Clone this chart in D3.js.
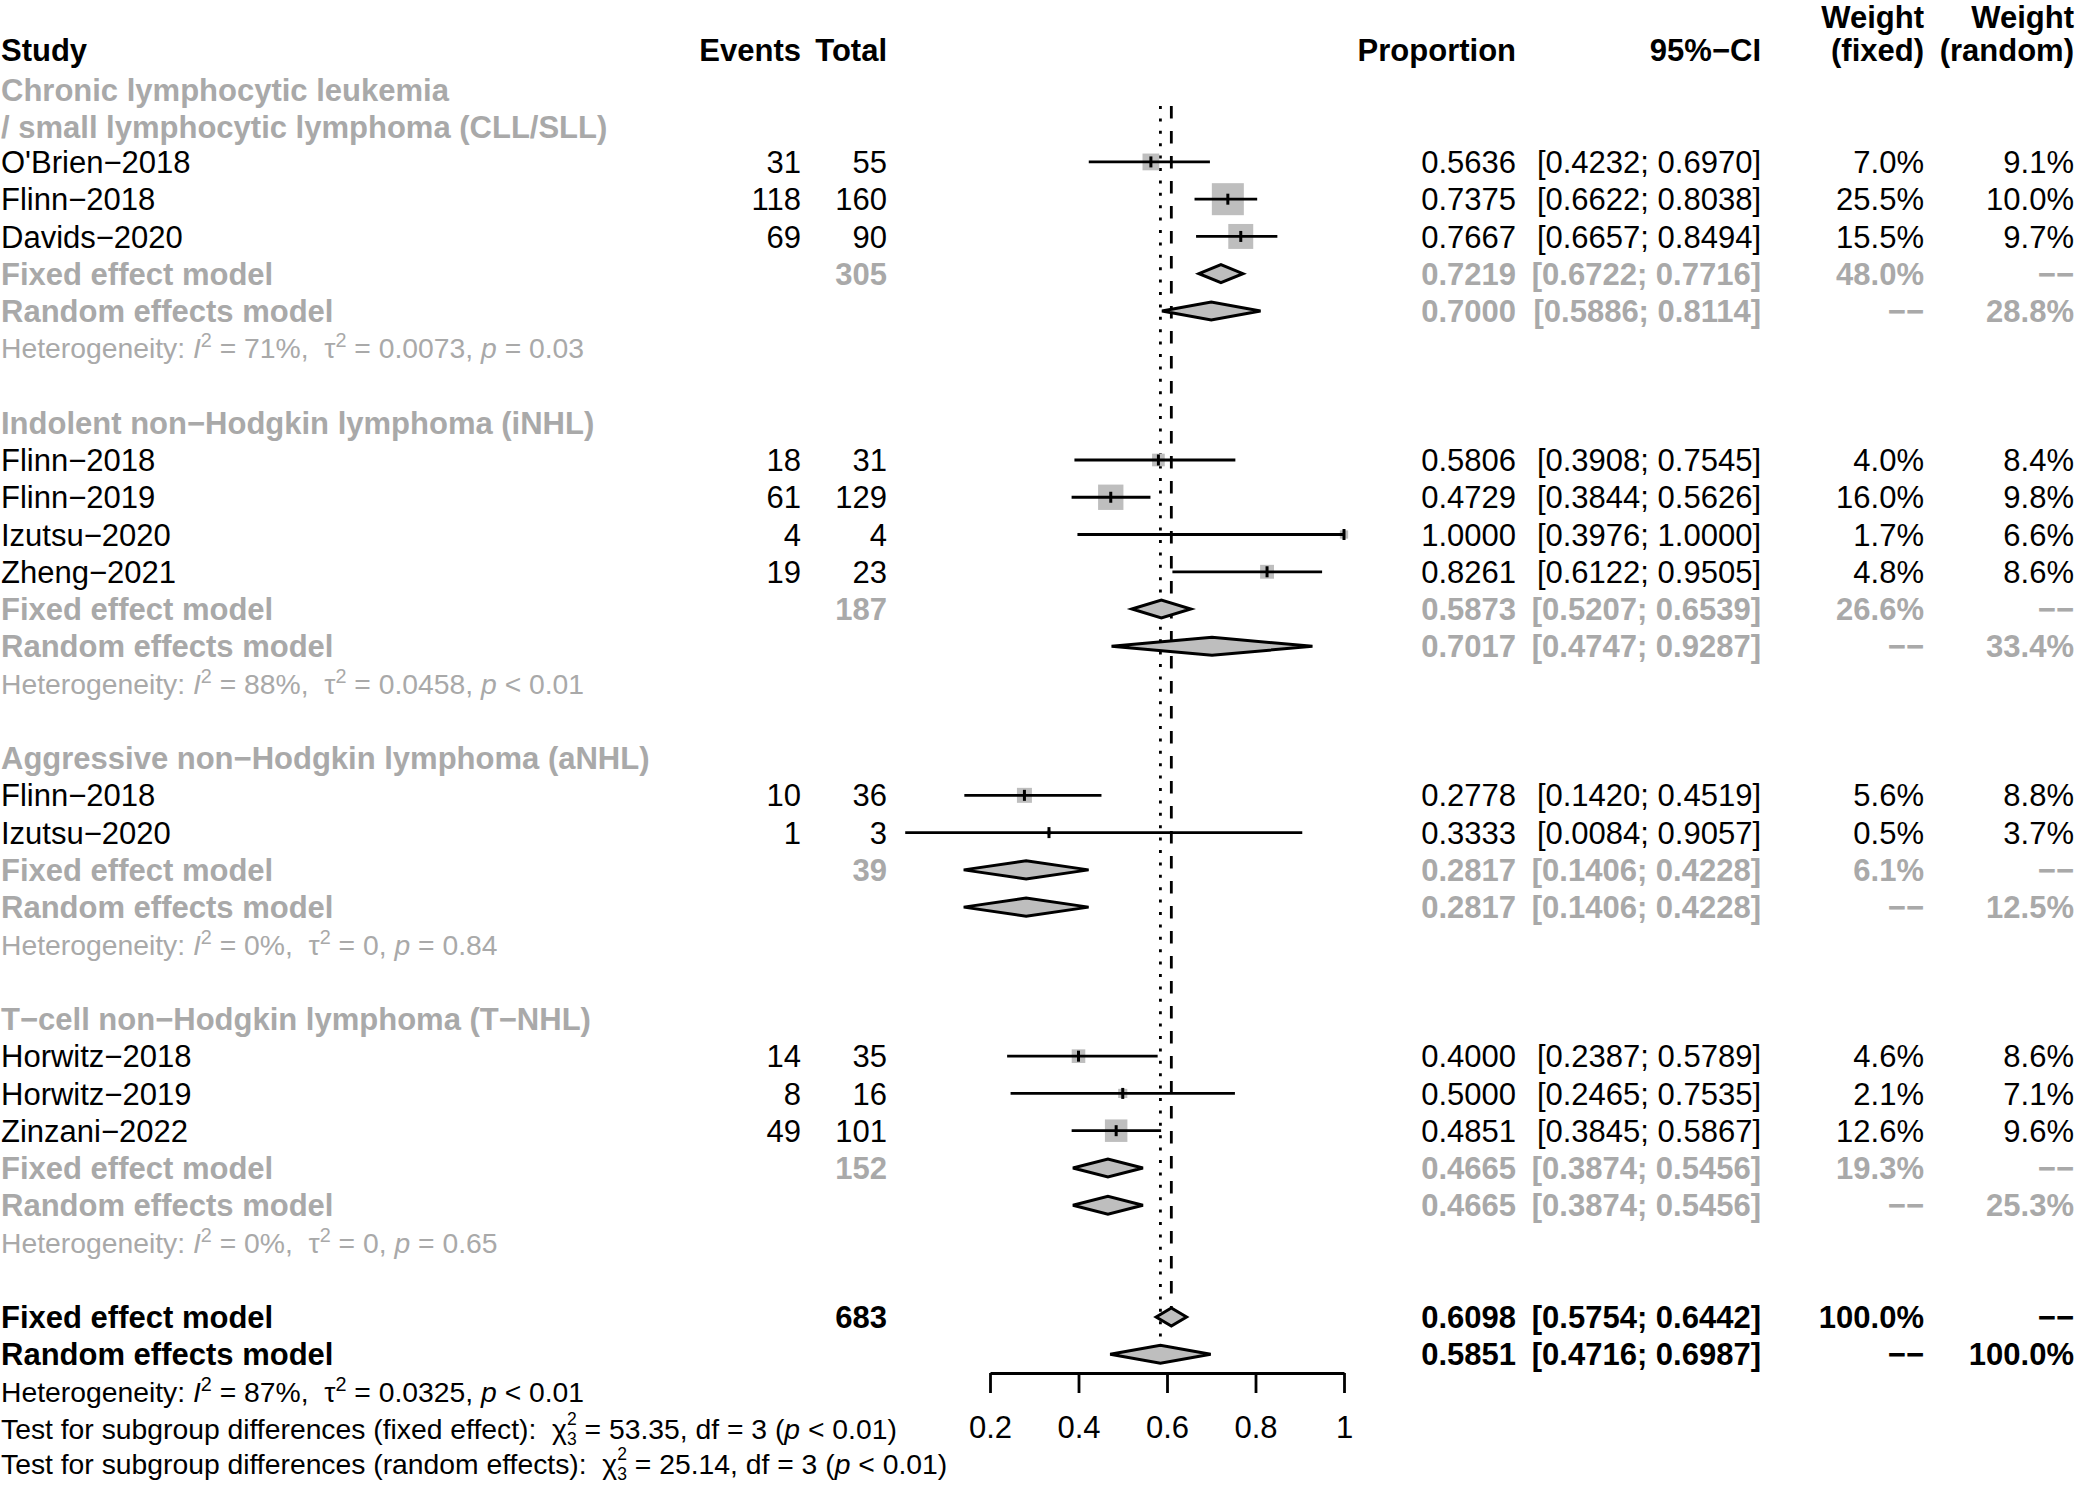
<!DOCTYPE html>
<html><head><meta charset="utf-8">
<script src="https://cdn.jsdelivr.net/npm/d3@7"></script>
<style>
html,body{margin:0;padding:0;background:#fff;}
svg{display:block;}
text{font-family:"Liberation Sans",Arial,Helvetica,sans-serif;white-space:pre;}
</style>
</head><body><div id="chart"></div>
<script>
// ---------------- DATA ----------------
const subgroupLabels = [
  ["Chronic lymphocytic leukemia", "/ small lymphocytic lymphoma (CLL/SLL)"],
  ["Indolent non\u2212Hodgkin lymphoma (iNHL)"],
  ["Aggressive non\u2212Hodgkin lymphoma (aNHL)"],
  ["T\u2212cell non\u2212Hodgkin lymphoma (T\u2212NHL)"]
];
const studyNames = ["O'Brien\u22122018","Flinn\u22122018","Davids\u22122020",
  "Flinn\u22122018","Flinn\u22122019","Izutsu\u22122020","Zheng\u22122021",
  "Flinn\u22122018","Izutsu\u22122020",
  "Horwitz\u22122018","Horwitz\u22122019","Zinzani\u22122022"];
const studyGroup   = [0,0,0, 1,1,1,1, 2,2, 3,3,3];
const events       = [31,118,69, 18,61,4,19, 10,1, 14,8,49];
const totals       = [55,160,90, 31,129,4,23, 36,3, 35,16,101];
const proportions  = [0.5636,0.7375,0.7667, 0.5806,0.4729,1.0000,0.8261, 0.2778,0.3333, 0.4000,0.5000,0.4851];
const ciLower      = [0.4232,0.6622,0.6657, 0.3908,0.3844,0.3976,0.6122, 0.1420,0.0084, 0.2387,0.2465,0.3845];
const ciUpper      = [0.6970,0.8038,0.8494, 0.7545,0.5626,1.0000,0.9505, 0.4519,0.9057, 0.5789,0.7535,0.5867];
const weightFixed  = [7.0,25.5,15.5, 4.0,16.0,1.7,4.8, 5.6,0.5, 4.6,2.1,12.6];
const weightRandom = [9.1,10.0,9.7, 8.4,9.8,6.6,8.6, 8.8,3.7, 8.6,7.1,9.6];

// subgroup summaries
const sgTotal      = [305,187,39,152];
const sgFixedEst   = [0.7219,0.5873,0.2817,0.4665];
const sgFixedLo    = [0.6722,0.5207,0.1406,0.3874];
const sgFixedHi    = [0.7716,0.6539,0.4228,0.5456];
const sgFixedW     = [48.0,26.6,6.1,19.3];
const sgRandEst    = [0.7000,0.7017,0.2817,0.4665];
const sgRandLo     = [0.5886,0.4747,0.1406,0.3874];
const sgRandHi     = [0.8114,0.9287,0.4228,0.5456];
const sgRandW      = [28.8,33.4,12.5,25.3];
const sgI2         = ["71%","88%","0%","0%"];
const sgTau2       = ["0.0073","0.0458","0","0"];
const sgP          = ["= 0.03","< 0.01","= 0.84","= 0.65"];

// overall
const totalN       = 683;
const overallFixed = [0.6098,0.5754,0.6442];
const overallRand  = [0.5851,0.4716,0.6987];
const overallI2 = "87%", overallTau2 = "0.0325", overallP = "< 0.01";
const testFixed  = ["53.35","3","< 0.01"];
const testRandom = ["25.14","3","< 0.01"];

const axisTicks  = [0.2,0.4,0.6,0.8,1];
const tickLabels = ["0.2","0.4","0.6","0.8","1"];

// ---------------- LAYOUT ----------------
const W = 2076, H = 1486;
const fs = 31, fsH = 28.3, fsS = 17.5;
const GRAY = "#a9a9a9", FILL = "#bebebe";
const LW = 2.8;
const DASH2 = "\u2212\u2212";
const rowY = k => 87.4 + k*37.26;
const base = (y, s=fs) => y + 0.358*s;
const col = {study:1, events:801, total:887, prop:1516, ci:1761, wf:1924, wr:2074};

const x = d3.scaleLinear().domain([0.2,1]).range([990,1344]);
const sq = d3.scaleSqrt().domain([0,25.5]).range([0,32]);

const svg = d3.select("#chart").append("svg").attr("width",W).attr("height",H);
const gRef = svg.append("g");
const gMarks = svg.append("g");
const gText = svg.append("g");

function txt(xp, y, str, o={}) {
  return gText.append("text")
    .attr("x", xp).attr("y", base(y, o.size||fs))
    .attr("text-anchor", o.anchor||"start")
    .attr("font-size", o.size||fs)
    .attr("font-weight", o.bold?"bold":"normal")
    .attr("fill", o.color||"#000")
    .text(str);
}
const f4 = v => v.toFixed(4);
const ci = (lo,hi) => "[" + f4(lo) + "; " + f4(hi) + "]";
const pct = v => v.toFixed(1) + "%";

function hetText(y, I2, tau2, p, color) {
  const t = gText.append("text").attr("x",1).attr("y",base(y,fsH))
    .attr("font-size",fsH).attr("fill",color);
  t.append("tspan").text("Heterogeneity: ");
  t.append("tspan").attr("font-style","italic").text("I");
  t.append("tspan").attr("font-size",fsH*0.7).attr("dy",-11).text("2");
  t.append("tspan").attr("dy",11).text(" = " + I2 + ",  ");
  t.append("tspan").text("\u03c4");
  t.append("tspan").attr("font-size",fsH*0.7).attr("dy",-11).text("2");
  t.append("tspan").attr("dy",11).text(" = " + tau2 + ", ");
  t.append("tspan").attr("font-style","italic").text("p");
  t.append("tspan").text(" " + p);
}
function testText(y, label, vals) {
  const t = gText.append("text").attr("x",1).attr("y",base(y,fsH))
    .attr("font-size",fsH).attr("fill","#000");
  t.append("tspan").text(label + "  ");
  t.append("tspan").text("\u03c7");
  t.append("tspan").attr("font-size",fsS).attr("dy",-14).text("2");
  t.append("tspan").attr("font-size",fsS).attr("dx",-9.7).attr("dy",20).text("3");
  t.append("tspan").attr("dy",-6).text(" = " + vals[0] + ", df = " + vals[1] + " (");
  t.append("tspan").attr("font-style","italic").text("p");
  t.append("tspan").text(" " + vals[2] + ")");
}
function diamond(y, est, lo, hi, h=9) {
  const pts = [[x(lo),y],[x(est),y-h],[x(hi),y],[x(est),y+h]];
  gMarks.append("path").attr("d", d3.line()(pts) + "Z")
    .attr("fill",FILL).attr("stroke","#000").attr("stroke-width",3)
    .attr("stroke-linejoin","miter");
}
function studyMark(y, i) {
  const s = sq(weightFixed[i]);
  gMarks.append("rect").attr("x", x(proportions[i]) - s/2).attr("y", y - s/2)
    .attr("width", s).attr("height", s).attr("fill", FILL);
  gMarks.append("line").attr("x1", x(ciLower[i])).attr("x2", x(ciUpper[i]))
    .attr("y1", y).attr("y2", y).attr("stroke","#000").attr("stroke-width",LW);
  gMarks.append("line").attr("x1", x(proportions[i])).attr("x2", x(proportions[i]))
    .attr("y1", y-5.5).attr("y2", y+5.5).attr("stroke","#000").attr("stroke-width",3);
}

// header
const yW = rowY(-2) + 4;
txt(col.study, rowY(-1), "Study", {bold:true});
txt(col.events, rowY(-1), "Events", {bold:true, anchor:"end"});
txt(col.total, rowY(-1), "Total", {bold:true, anchor:"end"});
txt(col.prop, rowY(-1), "Proportion", {bold:true, anchor:"end"});
txt(col.ci, rowY(-1), "95%\u2212CI", {bold:true, anchor:"end"});
txt(col.wf, yW, "Weight", {bold:true, anchor:"end"});
txt(col.wf, rowY(-1), "(fixed)", {bold:true, anchor:"end"});
txt(col.wr, yW, "Weight", {bold:true, anchor:"end"});
txt(col.wr, rowY(-1), "(random)", {bold:true, anchor:"end"});

let k = 0;
subgroupLabels.forEach((lines, g) => {
  const shift = lines.length > 1 ? 2.5 : 0;
  lines.forEach(line => { txt(col.study, rowY(k) + shift, line, {bold:true, color:GRAY}); k++; });
  studyNames.forEach((name, i) => {
    if (studyGroup[i] !== g) return;
    const y = rowY(k);
    txt(col.study, y, name);
    txt(col.events, y, String(events[i]), {anchor:"end"});
    txt(col.total, y, String(totals[i]), {anchor:"end"});
    txt(col.prop, y, f4(proportions[i]), {anchor:"end"});
    txt(col.ci, y, ci(ciLower[i], ciUpper[i]), {anchor:"end"});
    txt(col.wf, y, pct(weightFixed[i]), {anchor:"end"});
    txt(col.wr, y, pct(weightRandom[i]), {anchor:"end"});
    studyMark(y, i);
    k++;
  });
  let y = rowY(k);
  const o = {bold:true, color:GRAY};
  txt(col.study, y, "Fixed effect model", o);
  txt(col.total, y, String(sgTotal[g]), {...o, anchor:"end"});
  txt(col.prop, y, f4(sgFixedEst[g]), {...o, anchor:"end"});
  txt(col.ci, y, ci(sgFixedLo[g], sgFixedHi[g]), {...o, anchor:"end"});
  txt(col.wf, y, pct(sgFixedW[g]), {...o, anchor:"end"});
  txt(col.wr, y, DASH2, {...o, anchor:"end"});
  diamond(y, sgFixedEst[g], sgFixedLo[g], sgFixedHi[g]);
  k++;
  y = rowY(k);
  txt(col.study, y, "Random effects model", o);
  txt(col.prop, y, f4(sgRandEst[g]), {...o, anchor:"end"});
  txt(col.ci, y, ci(sgRandLo[g], sgRandHi[g]), {...o, anchor:"end"});
  txt(col.wf, y, DASH2, {...o, anchor:"end"});
  txt(col.wr, y, pct(sgRandW[g]), {...o, anchor:"end"});
  diamond(y, sgRandEst[g], sgRandLo[g], sgRandHi[g]);
  k++;
  hetText(rowY(k), sgI2[g], sgTau2[g], sgP[g], GRAY);
  k++;
  k++; // blank
});

// overall
const yF = rowY(k);
txt(col.study, yF, "Fixed effect model", {bold:true});
txt(col.total, yF, String(totalN), {bold:true, anchor:"end"});
txt(col.prop, yF, f4(overallFixed[0]), {bold:true, anchor:"end"});
txt(col.ci, yF, ci(overallFixed[1], overallFixed[2]), {bold:true, anchor:"end"});
txt(col.wf, yF, "100.0%", {bold:true, anchor:"end"});
txt(col.wr, yF, DASH2, {bold:true, anchor:"end"});
diamond(yF, overallFixed[0], overallFixed[1], overallFixed[2]);
k++;
const yR = rowY(k);
txt(col.study, yR, "Random effects model", {bold:true});
txt(col.prop, yR, f4(overallRand[0]), {bold:true, anchor:"end"});
txt(col.ci, yR, ci(overallRand[1], overallRand[2]), {bold:true, anchor:"end"});
txt(col.wf, yR, DASH2, {bold:true, anchor:"end"});
txt(col.wr, yR, "100.0%", {bold:true, anchor:"end"});
diamond(yR, overallRand[0], overallRand[1], overallRand[2]);
k++;
hetText(rowY(k), overallI2, overallTau2, overallP, "#000"); k++;
testText(rowY(k), "Test for subgroup differences (fixed effect):", testFixed); k++;
testText(rowY(k) - 2, "Test for subgroup differences (random effects):", testRandom); k++;

// reference lines
const yTop = 106;
gRef.append("line").attr("x1", x(overallFixed[0])).attr("x2", x(overallFixed[0]))
  .attr("y1", yTop).attr("y2", yF - 10).attr("stroke","#000").attr("stroke-width",LW)
  .attr("stroke-dasharray","12.5,12.5");
gRef.append("line").attr("x1", x(overallRand[0])).attr("x2", x(overallRand[0]))
  .attr("y1", yTop).attr("y2", yR - 10).attr("stroke","#000").attr("stroke-width",LW)
  .attr("stroke-dasharray","3,9.4");

// axis
const axisY = 1373;
const axis = d3.axisBottom(x).tickValues(axisTicks)
  .tickFormat((d,i) => tickLabels[i]).tickSize(20).tickSizeOuter(0).tickPadding(23);
const ga = svg.append("g").attr("transform", `translate(0,${axisY})`).call(axis);
ga.select(".domain").attr("stroke","#000").attr("stroke-width",LW);
ga.selectAll(".tick line").attr("stroke","#000").attr("stroke-width",LW);
ga.selectAll(".tick text").attr("font-size",fs).attr("fill","#000")
  .attr("font-family","'Liberation Sans',Arial,sans-serif");
</script></body></html>
